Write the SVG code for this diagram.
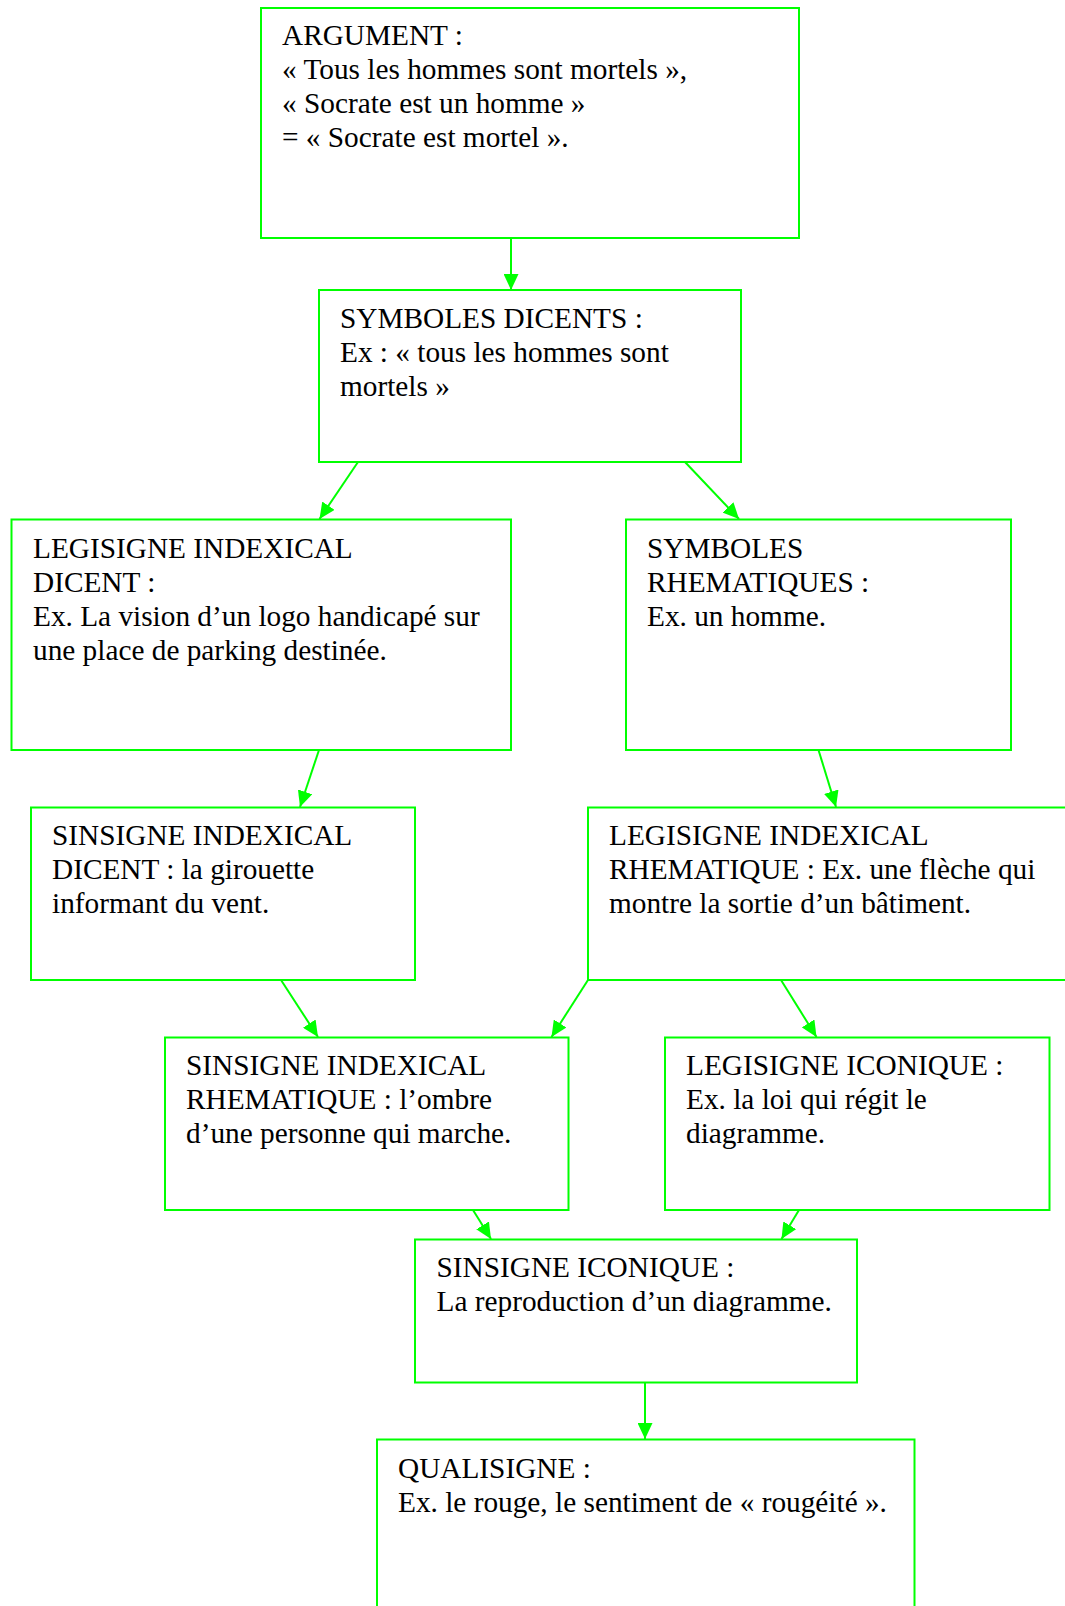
<svg xmlns="http://www.w3.org/2000/svg" width="1065" height="1606" viewBox="0 0 1065 1606">
<style>
.box{fill:#ffffff;stroke:#00ff00;stroke-width:2}
.t{font-family:"Liberation Serif","Times New Roman",serif;font-size:29.3px;fill:#000000}
.c{stroke:#00ff00;stroke-width:2;fill:none}
</style>
<defs>
<marker id="ah" markerUnits="userSpaceOnUse" markerWidth="17" markerHeight="15" refX="16" refY="7.5" orient="auto">
<path d="M0,0 L16,7.5 L0,15 z" fill="#00ff00"/>
</marker>
</defs>
<rect width="1065" height="1606" fill="#ffffff"/>
<g id="connectors">
<line class="c" x1="511" y1="232" x2="511" y2="290" marker-end="url(#ah)"/>
<line class="c" x1="358" y1="462" x2="319.5" y2="519" marker-end="url(#ah)"/>
<line class="c" x1="685" y1="462" x2="739" y2="519" marker-end="url(#ah)"/>
<line class="c" x1="319" y1="750" x2="300" y2="807" marker-end="url(#ah)"/>
<line class="c" x1="818.5" y1="750" x2="836" y2="807" marker-end="url(#ah)"/>
<line class="c" x1="281" y1="980" x2="318" y2="1037" marker-end="url(#ah)"/>
<line class="c" x1="588" y1="980" x2="551.5" y2="1037" marker-end="url(#ah)"/>
<line class="c" x1="781" y1="980" x2="816.5" y2="1037" marker-end="url(#ah)"/>
<line class="c" x1="473" y1="1210" x2="491" y2="1239" marker-end="url(#ah)"/>
<line class="c" x1="799" y1="1210" x2="781.5" y2="1239" marker-end="url(#ah)"/>
<line class="c" x1="645" y1="1382" x2="645" y2="1439" marker-end="url(#ah)"/>
</g>
<g id="argument">
<rect class="box" x="261" y="8" width="538" height="230"/>
<text class="t" x="282" y="45">ARGUMENT :</text>
<text class="t" x="282" y="79">« Tous les hommes sont mortels »,</text>
<text class="t" x="282" y="113">« Socrate est un homme »</text>
<text class="t" x="282" y="147">= « Socrate est mortel ».</text>
</g>
<g id="symboles-dicents">
<rect class="box" x="319" y="290" width="422" height="172"/>
<text class="t" x="340" y="328">SYMBOLES DICENTS :</text>
<text class="t" x="340" y="362">Ex : « tous les hommes sont</text>
<text class="t" x="340" y="396">mortels »</text>
</g>
<g id="legisigne-indexical-dicent">
<rect class="box" x="11.5" y="519.5" width="499.5" height="230.5"/>
<text class="t" x="33" y="558">LEGISIGNE INDEXICAL</text>
<text class="t" x="33" y="592">DICENT :</text>
<text class="t" x="33" y="626">Ex. La vision d’un logo handicapé sur</text>
<text class="t" x="33" y="660">une place de parking destinée.</text>
</g>
<g id="symboles-rhematiques">
<rect class="box" x="626" y="519.5" width="385" height="230.5"/>
<text class="t" x="647" y="558">SYMBOLES</text>
<text class="t" x="647" y="592">RHEMATIQUES :</text>
<text class="t" x="647" y="626">Ex. un homme.</text>
</g>
<g id="sinsigne-indexical-dicent">
<rect class="box" x="31" y="807.5" width="384" height="172.5"/>
<text class="t" x="52" y="845">SINSIGNE INDEXICAL</text>
<text class="t" x="52" y="879">DICENT : la girouette</text>
<text class="t" x="52" y="913">informant du vent.</text>
</g>
<g id="legisigne-indexical-rhematique">
<rect class="box" x="588" y="807.5" width="490" height="172.5"/>
<text class="t" x="609" y="845">LEGISIGNE INDEXICAL</text>
<text class="t" x="609" y="879">RHEMATIQUE : Ex. une flèche qui</text>
<text class="t" x="609" y="913">montre la sortie d’un bâtiment.</text>
</g>
<g id="sinsigne-indexical-rhematique">
<rect class="box" x="165" y="1037.5" width="403.5" height="172.5"/>
<text class="t" x="186" y="1075">SINSIGNE INDEXICAL</text>
<text class="t" x="186" y="1109">RHEMATIQUE : l’ombre</text>
<text class="t" x="186" y="1143">d’une personne qui marche.</text>
</g>
<g id="legisigne-iconique">
<rect class="box" x="665" y="1037.5" width="384.5" height="172.5"/>
<text class="t" x="686" y="1075">LEGISIGNE ICONIQUE :</text>
<text class="t" x="686" y="1109">Ex. la loi qui régit le</text>
<text class="t" x="686" y="1143">diagramme.</text>
</g>
<g id="sinsigne-iconique">
<rect class="box" x="415" y="1239.5" width="442" height="143"/>
<text class="t" x="436.5" y="1277">SINSIGNE ICONIQUE :</text>
<text class="t" x="436.5" y="1311">La reproduction d’un diagramme.</text>
</g>
<g id="qualisigne">
<rect class="box" x="377" y="1439.5" width="537.5" height="200"/>
<text class="t" x="398" y="1478">QUALISIGNE :</text>
<text class="t" x="398" y="1512">Ex. le rouge, le sentiment de « rougéité ».</text>
</g>
</svg>
